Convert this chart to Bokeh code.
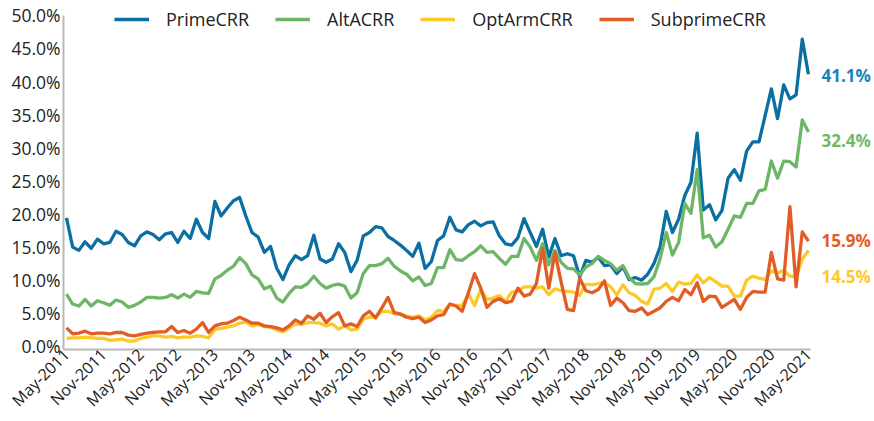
from bokeh.plotting import figure
from bokeh.models import (Range1d, FixedTicker, PrintfTickFormatter, Legend, LegendItem, Label)
from bokeh.embed import file_html
from bokeh.resources import INLINE
import math

# Monthly series, May-2011 .. May-2021 (121 months), in percent
prime = [19.4, 15.0, 14.5, 15.8, 14.8, 16.2, 15.5, 15.7, 17.4, 16.9,
         15.7, 15.2, 16.7, 17.3, 16.9, 16.1, 17.0, 17.2, 15.7, 17.4,
         16.3, 19.2, 17.2, 16.3, 21.9, 19.7, 20.9, 22.0, 22.5, 19.7,
         17.2, 16.5, 14.2, 15.1, 11.8, 10.1, 12.3, 13.7, 13.1, 13.7,
         16.8, 13.2, 12.7, 13.2, 15.5, 14.2, 11.3, 13.0, 16.7, 17.2,
         18.1, 17.9, 16.6, 16.0, 15.3, 14.5, 13.6, 15.6, 11.8, 12.8,
         16.0, 16.7, 19.5, 17.6, 17.3, 18.4, 18.9, 18.2, 18.7, 18.8,
         16.7, 15.5, 15.3, 16.4, 19.3, 17.2, 15.1, 17.7, 13.5, 16.3,
         13.7, 14.0, 13.7, 10.5, 13.0, 12.7, 13.5, 12.2, 12.3, 11.0,
         12.0, 10.1, 10.4, 10.0, 10.9, 12.5, 15.0, 20.4, 17.2, 19.2,
         22.8, 24.8, 32.2, 20.6, 21.4, 19.1, 20.5, 25.4, 26.7, 25.1,
         29.5, 30.9, 30.9, 34.9, 38.9, 34.4, 39.5, 37.4, 38.0, 46.4,
         41.1]
alta = [7.9, 6.4, 6.1, 7.1, 6.1, 6.9, 6.6, 6.2, 7.0, 6.7,
        5.9, 6.2, 6.7, 7.4, 7.4, 7.3, 7.4, 7.8, 7.3, 7.9,
        7.4, 8.3, 8.1, 8.0, 10.2, 10.7, 11.5, 12.1, 13.4, 12.5,
        10.8, 10.2, 8.7, 9.1, 7.3, 6.7, 8.0, 9.0, 8.9, 9.5,
        10.6, 9.5, 8.8, 9.2, 9.4, 9.1, 7.3, 8.1, 11.0, 12.2,
        12.2, 12.5, 13.3, 12.1, 11.4, 10.9, 9.9, 10.5, 9.2, 9.5,
        11.9, 11.9, 14.6, 13.1, 13.0, 13.7, 14.3, 15.2, 14.2, 14.3,
        13.3, 12.4, 13.6, 13.6, 16.3, 15.0, 13.0, 15.5, 12.3, 14.5,
        12.7, 11.8, 11.7, 10.8, 12.0, 12.5, 13.6, 13.0, 12.5, 11.5,
        12.2, 10.4, 9.5, 9.4, 9.5, 10.5, 13.2, 17.2, 13.8, 15.7,
        21.6, 20.1, 26.7, 16.4, 16.8, 15.0, 15.8, 17.7, 19.7, 19.5,
        21.6, 21.6, 23.5, 23.7, 28.0, 25.4, 28.0, 27.9, 27.1, 34.2,
        32.4]
optarm = [1.2, 1.3, 1.3, 1.4, 1.3, 1.2, 1.2, 0.9, 1.0, 1.1,
          0.8, 0.8, 1.2, 1.4, 1.6, 1.6, 1.4, 1.5, 1.3, 1.4,
          1.4, 1.6, 1.5, 1.3, 2.6, 2.7, 2.9, 3.1, 3.5, 3.7,
          3.1, 3.3, 3.0, 2.9, 2.5, 2.2, 2.8, 3.4, 3.3, 3.6,
          3.6, 3.5, 3.1, 3.4, 2.6, 3.1, 2.5, 2.6, 4.1, 4.4,
          4.5, 5.3, 5.3, 4.9, 4.8, 4.6, 4.4, 4.6, 4.0, 4.4,
          5.4, 5.3, 6.3, 6.2, 6.2, 7.9, 6.2, 8.6, 7.1, 7.3,
          7.7, 6.8, 8.2, 8.3, 9.0, 9.0, 8.8, 9.0, 7.8, 8.7,
          8.4, 8.3, 8.2, 7.7, 9.4, 9.3, 9.5, 9.7, 9.0, 7.8,
          9.3, 8.1, 7.7, 6.8, 6.4, 8.6, 8.8, 9.5, 8.3, 9.7,
          9.4, 9.5, 10.8, 9.6, 10.4, 9.8, 9.1, 9.1, 7.6, 7.6,
          10.0, 10.6, 10.3, 10.1, 11.4, 11.1, 11.5, 10.6, 10.5, 13.2,
          14.5]
subprime = [2.8, 1.9, 2.0, 2.3, 1.9, 2.0, 2.0, 1.9, 2.1, 2.1,
            1.7, 1.6, 1.8, 2.0, 2.1, 2.2, 2.2, 3.0, 2.1, 2.4,
            2.0, 2.6, 3.6, 2.1, 3.1, 3.4, 3.5, 3.9, 4.4, 4.0,
            3.5, 3.5, 3.1, 3.0, 2.8, 2.5, 3.1, 4.0, 3.5, 4.6,
            4.1, 5.0, 3.6, 4.5, 5.1, 3.1, 3.4, 3.0, 4.6, 5.3,
            4.3, 5.8, 7.4, 5.1, 4.9, 4.4, 4.2, 4.4, 3.6, 4.0,
            4.6, 4.8, 6.4, 6.1, 5.3, 8.1, 11.0, 8.8, 5.9, 6.8,
            7.2, 6.6, 6.8, 8.8, 7.6, 7.9, 9.5, 14.8, 8.8, 14.2,
            9.7, 5.6, 5.4, 10.3, 8.4, 8.1, 8.6, 9.9, 6.2, 7.3,
            6.6, 5.4, 5.3, 5.8, 4.8, 5.3, 5.8, 6.8, 7.4, 6.9,
            8.6, 7.8, 9.6, 6.8, 7.6, 7.5, 5.9, 6.5, 7.1, 5.6,
            7.4, 8.3, 8.2, 8.2, 14.2, 10.2, 10.0, 21.1, 9.0, 17.3,
            15.9]
tick_labels = ["May-2011", "Nov-2011", "May-2012", "Nov-2012", "May-2013",
               "Nov-2013", "May-2014", "Nov-2014", "May-2015", "Nov-2015",
               "May-2016", "Nov-2016", "May-2017", "Nov-2017", "May-2018",
               "Nov-2018", "May-2019", "Nov-2019", "May-2020", "Nov-2020",
               "May-2021"]
series_names = ["PrimeCRR", "AltACRR", "OptArmCRR", "SubprimeCRR"]

months = list(range(len(prime)))
tick_pos = [6 * i for i in range(len(tick_labels))]

FONT = "Open Sans"
line_colors = ["#0a6fa1", "#6db567", "#fcc92a", "#e25c26"]
label_colors = ["#1a84b8", "#6fb86a", "#fcc92a", "#e25c26"]

W, H = 874, 421
LEFT = 63
X0, X1 = -0.485, 120.32          # extent of the drawn x axis
Y0, Y1 = -0.47, 50.0             # extent of the drawn y axis
PX_PER_MONTH = 6.183
p = figure(width=W, height=H, output_backend="svg", toolbar_location=None,
           x_range=Range1d(X0, X0 + (W - LEFT) / PX_PER_MONTH), y_range=Range1d(Y0, 52.25),
           min_border_left=LEFT, min_border_right=0, min_border_top=0,
           min_border_bottom=40)
p.outline_line_color = None
p.xgrid.grid_line_color = None
p.ygrid.grid_line_color = None
p.background_fill_color = "white"

renderers = []
for vals, col in zip([prime, alta, optarm, subprime], line_colors):
    r = p.line(months, vals, line_color=col, line_width=3.3, line_join="round")
    renderers.append(r)

# axes
xa = p.xaxis[0]
xa.bounds = (X0, X1)
xa.ticker = FixedTicker(ticks=tick_pos)
xa.major_label_overrides = {pos: lab for pos, lab in zip(tick_pos, tick_labels)}
xa.major_label_orientation = math.pi / 4
xa.major_label_text_font = FONT
xa.major_label_text_font_size = "16px"
xa.major_label_text_color = "#222222"
xa.major_label_standoff = 2
xa.axis_line_color = "#b8b8b8"
xa.axis_line_width = 2
xa.major_tick_line_color = None
xa.minor_tick_line_color = None
xa.major_tick_out = 0
xa.major_tick_in = 0
xa.minor_tick_out = 0

ya = p.yaxis[0]
ya.bounds = (Y0, Y1)
ya.ticker = FixedTicker(ticks=[0, 5, 10, 15, 20, 25, 30, 35, 40, 45, 50])
ya.formatter = PrintfTickFormatter(format="%.1f%%")
ya.major_label_text_font = FONT
ya.major_label_text_font_size = "17.5px"
ya.major_label_text_color = "#222222"
ya.major_label_standoff = 3
ya.axis_line_color = "#b8b8b8"
ya.axis_line_width = 2
ya.major_tick_line_color = None
ya.minor_tick_line_color = None
ya.major_tick_out = 0
ya.major_tick_in = 0
ya.minor_tick_out = 0

legend = Legend(items=[LegendItem(label=n, renderers=[r]) for n, r in zip(series_names, renderers)],
                orientation="horizontal", location=(51, 318))
legend.label_text_font = FONT
legend.label_text_font_size = "18px"
legend.label_text_color = "#222222"
legend.glyph_width = 35
legend.label_standoff = 17
legend.spacing = 26
legend.padding = 0
legend.margin = 0
legend.border_line_color = None
legend.background_fill_alpha = 0
p.add_layout(legend)

# end-of-series value labels
finals = [prime[-1], alta[-1], optarm[-1], subprime[-1]]
y_offs = [-1, -9, -26, 1]
for v, col, yo in zip(finals, label_colors, y_offs):
    p.add_layout(Label(x=months[-1], y=v, text=f"{v:.1f}%", x_offset=13, y_offset=yo,
                       text_baseline="middle", text_align="left", text_color=col,
                       text_font=FONT, text_font_size="17px", text_font_style="bold"))

open("out.html", "w").write(file_html(p, INLINE))
